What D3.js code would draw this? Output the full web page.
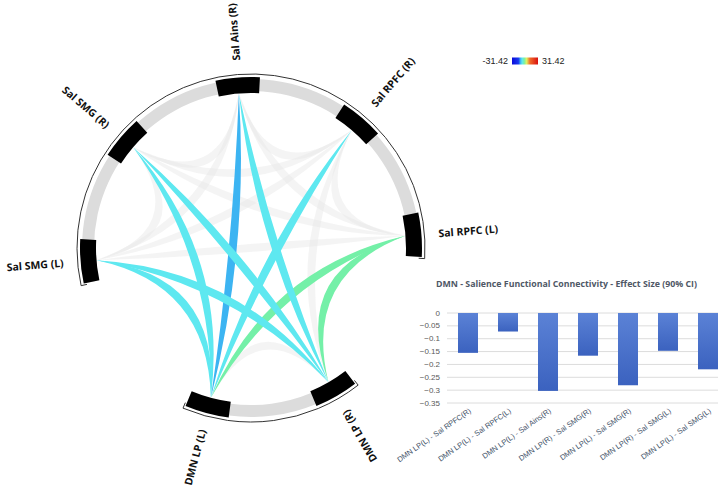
<!DOCTYPE html>
<html lang="en">
<head>
    <meta charset="UTF-8">
    <title>DMN - Salience Functional Connectivity</title>
    <script src="https://d3js.org/d3.v7.min.js"></script>
    <style>
        body { margin: 0; background: #fff; }
        svg { display: block; }
    </style>
</head>
<body>
<div id="chart"></div>
<script>
// ---- data ------------------------------------------------------------
const salNodes = ["Sal SMG (L)", "Sal SMG (R)", "Sal Ains (R)", "Sal RPFC (R)", "Sal RPFC (L)"];
const dmnNodes = ["DMN LP (R)", "DMN LP (L)"];

const linkSource = ["DMN LP (L)", "DMN LP (L)", "DMN LP (L)", "DMN LP (L)", "DMN LP (L)",
                    "DMN LP (R)", "DMN LP (R)", "DMN LP (R)", "DMN LP (R)"];
const linkTarget = ["Sal SMG (L)", "Sal SMG (R)", "Sal Ains (R)", "Sal RPFC (R)", "Sal RPFC (L)",
                    "Sal SMG (L)", "Sal SMG (R)", "Sal Ains (R)", "Sal RPFC (L)"];
const linkValue  = [-7, -7, -11, -7, -2, -7, -7, -7, -2];

const colorMin = -31.42, colorMax = 31.42;

const barLabels = ["DMN LP(L) - Sal RPFC(R)", "DMN LP(L) - Sal RPFC(L)", "DMN LP(L) - Sal Ains(R)",
                   "DMN LP(R) - Sal SMG(R)", "DMN LP(L) - Sal SMG(R)", "DMN LP(R) - Sal SMG(L)",
                   "DMN LP(L) - Sal SMG(L)"];
const barValues = [-0.155, -0.072, -0.303, -0.166, -0.281, -0.147, -0.219];
const yTicks = [0, -0.05, -0.1, -0.15, -0.2, -0.25, -0.3, -0.35];
const barTitle = "DMN - Salience Functional Connectivity - Effect Size (90% CI)";

// ---- svg -------------------------------------------------------------
const svg = d3.select("#chart").append("svg")
    .attr("width", 718)
    .attr("height", 486);

// ---- chord layout ----------------------------------------------------
const cx = 251, cy = 248;
const rLink = 155, rGrayIn = 157, rGrayOut = 169, rBlockIn = 155, rBlockOut = 171, rLine = 174, rLabel = 188;
const step = 45, halfW = 7.5;
const groups = [
    {nodes: salNodes, first: -94.5},
    {nodes: dmnNodes, first: 150}
];

const nodeAngle = {};
groups.forEach(g => {
    g.nodes.forEach((n, i) => { nodeAngle[n] = g.first + i * step; });
    g.a0 = g.first - halfW;
    g.a1 = g.first + (g.nodes.length - 1) * step + halfW;
});

const rad = d => d * Math.PI / 180;
function pt(a, r) {
    return [cx + r * Math.sin(rad(a)), cy - r * Math.cos(rad(a))];
}

const colorScale = d3.scaleLinear()
    .domain([colorMin, -16, -11, -7, -2, 4, 12, colorMax])
    .range(["#0a0ad8", "#1838f0", "#3cb4f2", "#5ee8f0", "#74f0a8", "#dff060", "#f06a28", "#d81010"])
    .clamp(true);

const g0 = svg.append("g");

// outline around each group
groups.forEach(g => {
    const p = d3.path();
    const s = pt(g.a0 - 0.5, 168);
    p.moveTo(s[0], s[1]);
    const s2 = pt(g.a0 - 0.5, rLine);
    p.lineTo(s2[0], s2[1]);
    p.arc(cx, cy, rLine, rad(g.a0 - 0.5 - 90), rad(g.a1 + 0.5 - 90));
    const e = pt(g.a1 + 0.5, 168);
    p.lineTo(e[0], e[1]);
    g0.append("path")
        .attr("d", p.toString())
        .attr("fill", "none")
        .attr("stroke", "#333")
        .attr("stroke-width", 1);
});

// grey track
groups.forEach(g => {
    g0.append("path")
        .attr("transform", `translate(${cx},${cy})`)
        .attr("d", d3.arc()({innerRadius: rGrayIn, outerRadius: rGrayOut,
            startAngle: rad(g.a0), endAngle: rad(g.a1)}))
        .attr("fill", "#dcdcdc");
});

// ribbons
function ribbon(a1, a2, w, k) {
    const A = pt(a1, rLink), B = pt(a2, rLink);
    const M = [(A[0] + B[0]) / 2, (A[1] + B[1]) / 2];
    const C = [cx + k * (M[0] - cx), cy + k * (M[1] - cy)];
    const dx = B[0] - A[0], dy = B[1] - A[1];
    const L = Math.hypot(dx, dy);
    const nx = -dy / L, ny = dx / L;
    const p = d3.path();
    p.moveTo(A[0], A[1]);
    p.quadraticCurveTo(C[0] + nx * w, C[1] + ny * w, B[0], B[1]);
    p.quadraticCurveTo(C[0] - nx * w, C[1] - ny * w, A[0], A[1]);
    p.closePath();
    return p.toString();
}

// faint ribbons for every other pair
const allNodes = salNodes.concat(dmnNodes);
const isLinked = (a, b) => linkSource.some((s, i) =>
    (s === a && linkTarget[i] === b) || (s === b && linkTarget[i] === a));
for (let i = 0; i < allNodes.length; i++) {
    for (let j = i + 1; j < allNodes.length; j++) {
        if (isLinked(allNodes[i], allNodes[j])) continue;
        g0.append("path")
            .attr("d", ribbon(nodeAngle[allNodes[i]], nodeAngle[allNodes[j]], 8, 0.38))
            .attr("fill", "#e6e6e6")
            .attr("opacity", 0.45);
    }
}

// coloured ribbons
linkSource.forEach((s, i) => {
    g0.append("path")
        .attr("d", ribbon(nodeAngle[s], nodeAngle[linkTarget[i]], 8, 0.38))
        .attr("fill", colorScale(linkValue[i]));
});

// node blocks
allNodes.forEach(n => {
    g0.append("path")
        .attr("transform", `translate(${cx},${cy})`)
        .attr("d", d3.arc()({innerRadius: rBlockIn, outerRadius: rBlockOut,
            startAngle: rad(nodeAngle[n] - halfW), endAngle: rad(nodeAngle[n] + halfW)}))
        .attr("fill", "#000");
});

// node labels
allNodes.forEach(n => {
    const a = nodeAngle[n];
    const p = pt(a, rLabel);
    let rot = a - 90, anchor = "start";
    if (rot < -135 || rot >= 45) { rot = rot + 180; anchor = "end"; }
    if (rot > 180) rot -= 360;
    g0.append("text")
        .attr("transform", `translate(${p[0]},${p[1]}) rotate(${rot})`)
        .attr("text-anchor", anchor)
        .attr("dominant-baseline", "central")
        .attr("font-family", "'Open Sans', sans-serif")
        .attr("font-weight", 700)
        .attr("font-size", 10.5)
        .attr("fill", "#111")
        .text(n);
});

// ---- colour legend ---------------------------------------------------
const defs = svg.append("defs");
const grad = defs.append("linearGradient").attr("id", "jet");
colorScale.domain().forEach((d, i) => {
    grad.append("stop")
        .attr("offset", (d - colorMin) / (colorMax - colorMin))
        .attr("stop-color", colorScale.range()[i]);
});
svg.append("text")
    .attr("x", 508).attr("y", 61)
    .attr("text-anchor", "end")
    .attr("dominant-baseline", "central")
    .attr("font-family", "'Liberation Sans', Arial, sans-serif")
    .attr("font-size", 9)
    .attr("fill", "#222")
    .text(colorMin);
svg.append("rect")
    .attr("x", 512).attr("y", 57.5)
    .attr("width", 26).attr("height", 7)
    .attr("fill", "url(#jet)");
svg.append("text")
    .attr("x", 542).attr("y", 61)
    .attr("dominant-baseline", "central")
    .attr("font-family", "'Liberation Sans', Arial, sans-serif")
    .attr("font-size", 9)
    .attr("fill", "#222")
    .text(colorMax);

// ---- bar chart -------------------------------------------------------
const xBar = d3.scaleBand().domain(barLabels).range([448, 728]).paddingInner(0.5).paddingOuter(0.25);
const yBar = d3.scaleLinear().domain([-0.35, 0]).range([403, 313]);

svg.append("text")
    .attr("x", 436).attr("y", 283)
    .attr("dominant-baseline", "central")
    .attr("font-family", "'Open Sans', sans-serif")
    .attr("font-weight", 700)
    .attr("font-size", 9.5)
    .attr("textLength", 261)
    .attr("lengthAdjust", "spacingAndGlyphs")
    .attr("fill", "#4f5866")
    .text(barTitle);

const gBar = svg.append("g");
yTicks.forEach(t => {
    gBar.append("line")
        .attr("x1", 447).attr("x2", 728)
        .attr("y1", yBar(t)).attr("y2", yBar(t))
        .attr("stroke", "#dcdcdc")
        .attr("stroke-width", 1);
    gBar.append("text")
        .attr("x", 440).attr("y", yBar(t))
        .attr("text-anchor", "end")
        .attr("dominant-baseline", "central")
        .attr("font-family", "'Liberation Sans', Arial, sans-serif")
        .attr("font-size", 8)
        .attr("fill", "#595959")
        .text(t === 0 ? "0" : d3.format(".2~f")(t));
});

const barGrad = defs.append("linearGradient").attr("id", "barfill")
    .attr("x1", 0).attr("y1", 0).attr("x2", 0).attr("y2", 1);
barGrad.append("stop").attr("offset", 0).attr("stop-color", "#5b82d6");
barGrad.append("stop").attr("offset", 1).attr("stop-color", "#3b62bf");

barValues.forEach((v, i) => {
    gBar.append("rect")
        .attr("x", xBar(barLabels[i]))
        .attr("y", yBar(0))
        .attr("width", xBar.bandwidth())
        .attr("height", yBar(v) - yBar(0))
        .attr("fill", "url(#barfill)");
    const bx = xBar(barLabels[i]) + xBar.bandwidth() / 2 + 2;
    gBar.append("text")
        .attr("transform", `translate(${bx},410) rotate(-35)`)
        .attr("text-anchor", "end")
        .attr("dominant-baseline", "central")
        .attr("font-family", "'Liberation Sans', Arial, sans-serif")
        .attr("font-size", 7.5)
        .attr("fill", "#44546a")
        .text(barLabels[i]);
});
</script>
</body>
</html>
